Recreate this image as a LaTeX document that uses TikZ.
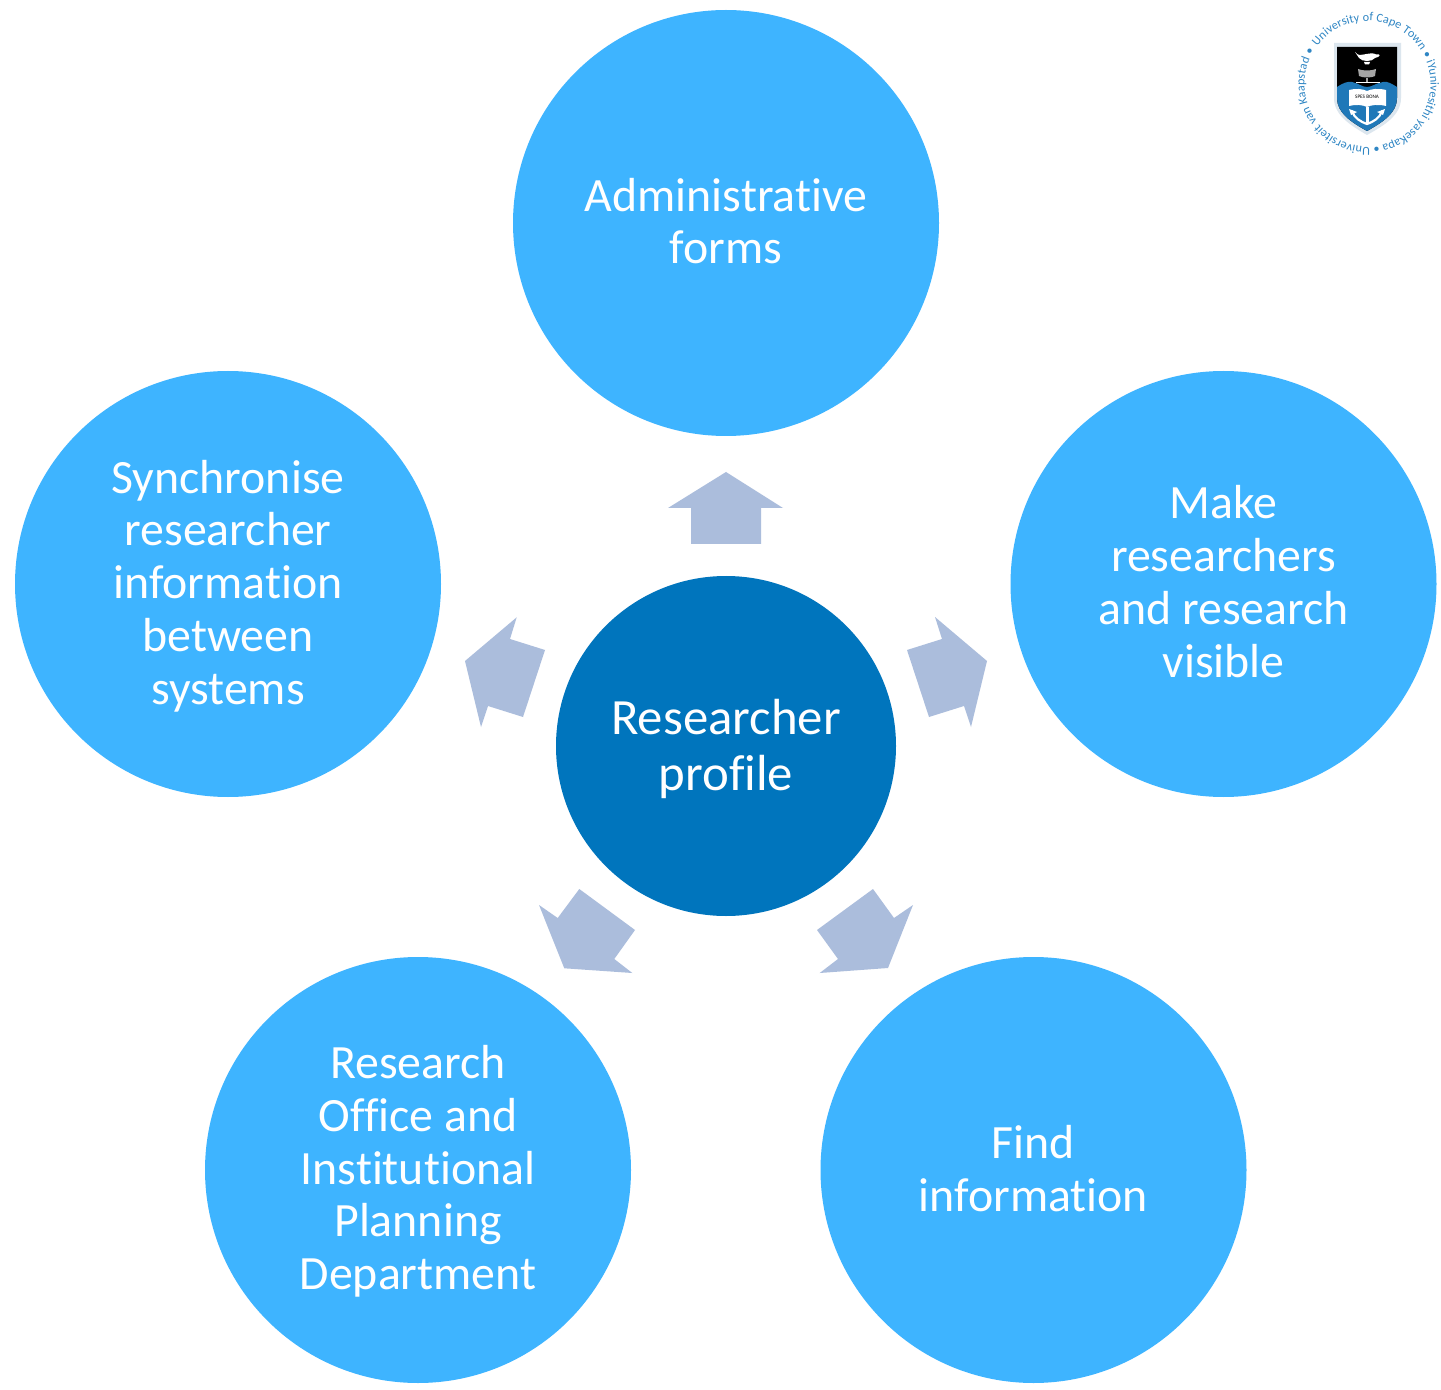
\documentclass[tikz,border=0pt]{standalone}
\usepackage{fontspec}
\setmainfont[Ligatures=NoCommon]{Carlito}
\usetikzlibrary{decorations.text}
\definecolor{bubble}{HTML}{3EB4FF}
\definecolor{hub}{HTML}{0075BD}
\definecolor{pointer}{HTML}{ABBDDC}
\definecolor{crest}{HTML}{1F78B8}
\definecolor{ringtext}{HTML}{2F86C4}
\definecolor{shieldrim}{HTML}{DCE6EE}
\tikzset{
  outer/.style={circle,fill=bubble,draw=none,minimum size=213pt,inner sep=0pt},
  centre/.style={circle,fill=hub,draw=none,minimum size=170pt,inner sep=0pt},
  outertext/.style={inner sep=0pt,text=white,align=center,font=\fontsize{23.9}{26.4}\selectfont},
  centretext/.style={inner sep=0pt,text=white,align=center,font=\fontsize{25.4}{28}\selectfont},
  pointerarrow/.style={fill=pointer,draw=none},
  lightmark/.style={fill=white,draw=none},
}
\begin{document}
\begin{tikzpicture}[x=0.5pt,y=-0.5pt]
\useasboundingbox (0,0) rectangle (1441,1390);
\fill[white] (0,0) rectangle (1441,1390);

\node[outer] (forms) at (726,223) {};
\node[outer] (visible) at (1223.5,584) {};
\node[outer] (find) at (1033.5,1170) {};
\node[outer] (office) at (418,1170) {};
\node[outer] (sync) at (228,584) {};
\node[centre] (profile) at (726,746) {};
\node[outertext,yshift=1pt] (formstext) at (forms) {Administrative\\forms};
\node[outertext,yshift=1.2pt] (visibletext) at (visible) {Make\\researchers\\and research\\visible};
\node[outertext,yshift=0.7pt] (findtext) at (find) {Find\\information};
\node[outertext,yshift=-0.7pt] (officetext) at (office) {Research\\Office and\\Institutional\\Planning\\Department};
\node[outertext,yshift=-1pt] (synctext) at (sync) {Synchronise\\researcher\\information\\between\\systems};
\node[centretext,yshift=-1.3pt] (profiletext) at (profile) {Researcher\\profile};

\fill[pointerarrow] (726,472)--(783,508)--(761,508)--(761,544)--(691,544)--(691,508)--(668,508)--cycle;
\fill[pointerarrow] (935,617)--(987,661)--(971,727)--(964,706)--(929,717)--(907,650)--(942,639)--cycle;
\fill[pointerarrow] (913,905)--(888,968)--(819.7,973)--(838,959)--(817,930)--(873,889)--(894,918)--cycle;
\fill[pointerarrow] (539,905)--(564.3,968.3)--(632.3,973)--(614.3,959)--(635,930)--(579.3,889)--(557.7,918)--cycle;
\fill[pointerarrow] (516.7,617.3)--(465,661)--(481,727)--(488,706)--(523,717)--(545,650)--(510,639)--cycle;

% crest
\path[decorate,decoration={text along path,text align={fit to path},
  text={|\fontsize{6.1}{7}\selectfont\color{ringtext}|University of Cape Town • iYunivesithi yaseKapa • Universiteit van Kaapstad •}}]
  (1367.5,84) ++(-143:63) arc[start angle=-143,end angle=212,radius=63];
\fill[shieldrim] (1334,43)--(1401,43)--(1401,98) .. controls (1401,115) and (1385,125) .. (1367,135) .. controls (1350,125) and (1334,115) .. (1334,98)--cycle;
\fill[black] (1337,47)--(1397,47)--(1397,98) .. controls (1397,113) and (1383,122) .. (1367,131) .. controls (1351,122) and (1337,113) .. (1337,98)--cycle;
\fill[crest] (1337,87) .. controls (1343,83) and (1348,81) .. (1352,82) .. controls (1358,83) and (1362,87) .. (1367,87) .. controls (1372,87) and (1376,83) .. (1383,82) .. controls (1388,81) and (1392,84) .. (1397,87) -- (1397,98) .. controls (1397,113) and (1383,122) .. (1367,131) .. controls (1351,122) and (1337,113) .. (1337,98)--cycle;
% lamp
\fill[lightmark] (1357,54) .. controls (1360,57) and (1372,51) .. (1376,54.5) .. controls (1381,53) and (1381,57) .. (1375,58) .. controls (1372,62) and (1362,62) .. (1359,58) -- (1355,52)--cycle;
\fill[lightmark] (1364,62)--(1370,62)--(1369,64.5)--(1365,64.5)--cycle;
% wreath
\fill[gray!70] (1358,69) .. controls (1362,71) and (1372,71) .. (1376,69) -- (1375,76) .. controls (1372,78) and (1362,78) .. (1359,76)--cycle;
\fill[lightmark] (1356,82) rectangle (1380,83.5);
\fill[gray!70] (1366.2,78) rectangle (1367.8,82);
% book
\fill[lightmark] (1349,90) .. controls (1356,88) and (1363,89) .. (1367,91) .. controls (1371,89) and (1378,88) .. (1386,90) -- (1386,106) .. controls (1378,104) and (1371,105) .. (1367,107) .. controls (1363,105) and (1356,104) .. (1349,106)--cycle;
\node[inner sep=0pt,font=\fontsize{2.6}{3}\selectfont,text=black] (motto) at (1367,97) {SPES BONA};
% anchor
\fill[lightmark] (1365.5,107) rectangle (1368.5,124);
\draw[white,line width=1.1pt,line cap=round] (1352,111) .. controls (1354,118) and (1361,122) .. (1367,124) .. controls (1373,122) and (1380,118) .. (1382,111);
\fill[lightmark] (1349,109)--(1357,112)--(1351,115)--cycle;
\fill[lightmark] (1385,109)--(1377,112)--(1383,115)--cycle;
\end{tikzpicture}
\end{document}
